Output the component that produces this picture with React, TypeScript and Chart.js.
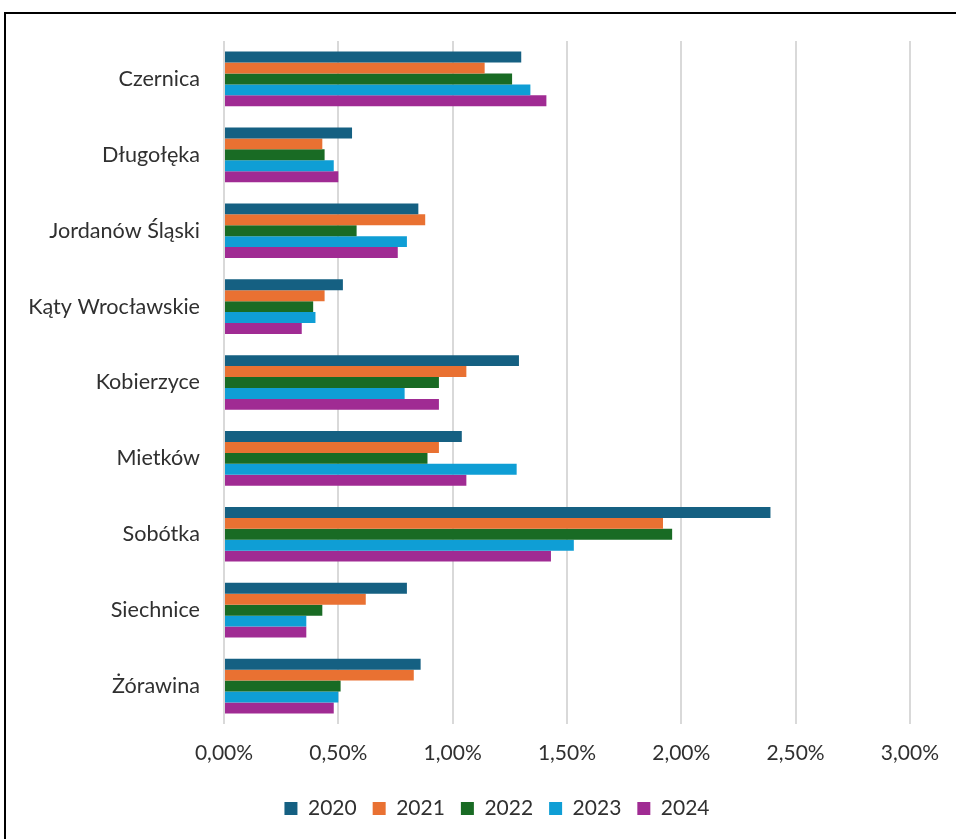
import React, { useEffect, useRef } from "react";
import { Chart, registerables } from "chart.js";

Chart.register(...registerables);

const categories = [
  "Czernica",
  "Długołęka",
  "Jordanów Śląski",
  "Kąty Wrocławskie",
  "Kobierzyce",
  "Mietków",
  "Sobótka",
  "Siechnice",
  "Żórawina",
];
const years = ["2020", "2021", "2022", "2023", "2024"];
const values2020 = [1.3, 0.56, 0.85, 0.52, 1.29, 1.04, 2.39, 0.8, 0.86];
const values2021 = [1.14, 0.43, 0.88, 0.44, 1.06, 0.94, 1.92, 0.62, 0.83];
const values2022 = [1.26, 0.44, 0.58, 0.39, 0.94, 0.89, 1.96, 0.43, 0.51];
const values2023 = [1.34, 0.48, 0.8, 0.4, 0.79, 1.28, 1.53, 0.36, 0.5];
const values2024 = [1.41, 0.5, 0.76, 0.34, 0.94, 1.06, 1.43, 0.36, 0.48];
const seriesValues = [values2020, values2021, values2022, values2023, values2024];
const colors = ["#156082", "#E97132", "#196B24", "#0F9ED5", "#A02B93"];
const xMin = 0;
const xMax = 3;
const xStep = 0.5;

const FONT = "Lato, 'Open Sans', sans-serif";
const TEXT = "#303030";

const legendShift = {
  id: "legendShift",
  afterLayout(chart: any) {
    const lg = chart.legend;
    if (lg) {
      lg.left += 41;
      lg.right += 41;
    }
  },
};

export default function App() {
  const ref = useRef<HTMLCanvasElement | null>(null);

  useEffect(() => {
    if (!ref.current) return;
    const chart = new Chart(ref.current, {
      type: "bar",
      data: {
        labels: categories,
        datasets: years.map((y, i) => ({
          label: y,
          data: seriesValues[i],
          backgroundColor: colors[i],
          borderWidth: 0,
          categoryPercentage: 0.72,
          barPercentage: 1,
        })),
      },
      plugins: [legendShift],
      options: {
        indexAxis: "y",
        responsive: false,
        animation: false,
        layout: { padding: { top: 41, right: 44, bottom: 10, left: 0 } },
        plugins: {
          legend: {
            position: "bottom",
            labels: {
              boxWidth: 13,
              boxHeight: 13,
              padding: 16,
              color: TEXT,
              font: { family: FONT, size: 21 },
            },
          },
          tooltip: { enabled: false },
        },
        scales: {
          x: {
            min: xMin,
            max: xMax,
            border: { display: false },
            grid: { color: "#d9d9d9", lineWidth: 2, drawTicks: false },
            ticks: {
              stepSize: xStep,
              padding: 17,
              color: TEXT,
              font: { family: FONT, size: 21 },
              callback: (v: any) => Number(v).toFixed(2).replace(".", ",") + "%",
            },
            afterFit: (s: any) => {
              s.height = 58;
            },
          },
          y: {
            border: { display: false },
            grid: { display: false, drawTicks: false },
            ticks: {
              padding: 24,
              color: TEXT,
              font: { family: FONT, size: 21.6 },
            },
            afterFit: (s: any) => {
              s.width = 224;
            },
          },
        },
      },
    });
    return () => chart.destroy();
  }, []);

  return (
    <div
      style={{
        position: "fixed",
        left: 0,
        top: 0,
        width: 956,
        height: 839,
        overflow: "hidden",
        background: "#fff",
      }}
    >
      <canvas ref={ref} width={956} height={839} style={{ display: "block" }} />
      <div
        style={{
          position: "absolute",
          left: 4,
          top: 12,
          width: 1000,
          height: 900,
          border: "2px solid #000",
          boxSizing: "border-box",
          pointerEvents: "none",
        }}
      />
    </div>
  );
}
